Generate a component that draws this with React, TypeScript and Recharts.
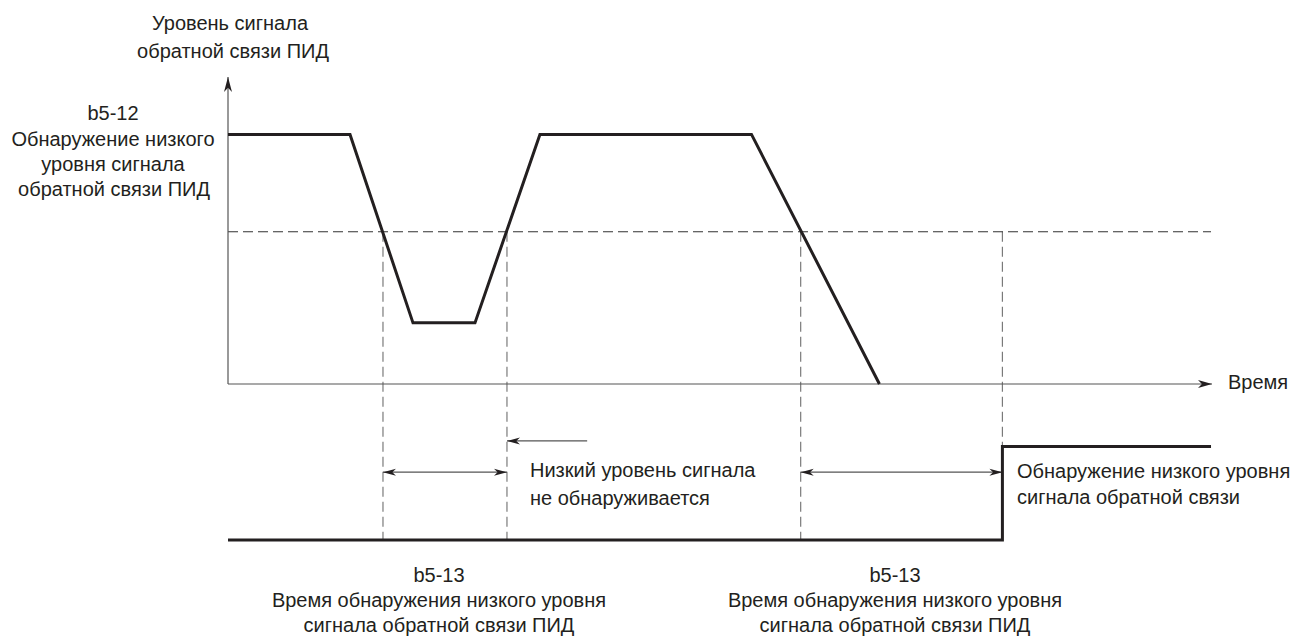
import React from 'react';
import { ComposedChart, Line, XAxis, YAxis, ReferenceLine } from 'recharts';

// time runs 0..1000 along the axis, level is in schematic units (0 = time axis)
const feedbackTime = [0, 124, 188, 251, 317, 532, 662];
const feedbackLevel = [100, 100, 24.5, 24.5, 100, 100, 0];

// detection output trace, drawn under the time axis
const outputTime = [0, 787, 787, 999];
const outputLevel = [-62.5, -62.5, -25, -25];

const threshold = 61; // b5-12
const crossTimes = [157.5, 283.5, 582, 787];
const timeMax = 1000;
const levelTop = 123;
const levelBottom = -70.5;

const detectSpans = [
  [157.5, 283.5],
  [582, 787],
];
const spanLevel = -35.3;
const restartArrow = { from: 365, to: 283.5, level: -22.8 };

const feedbackData = feedbackTime.map((t, i) => ({ t, v: feedbackLevel[i] }));
const outputData = outputTime.map((t, i) => ({ t, v: outputLevel[i] }));

const INK = '#231f20';
const FONT = '"Liberation Sans", Arial, sans-serif';

const labels = [
  { x: 230, y: 30, text: 'Уровень сигнала', anchor: 'middle' },
  { x: 233, y: 58, text: 'обратной связи ПИД', anchor: 'middle' },
  { x: 113, y: 120, text: 'b5-12', anchor: 'middle' },
  { x: 113, y: 146, text: 'Обнаружение низкого', anchor: 'middle' },
  { x: 113, y: 171, text: 'уровня сигнала', anchor: 'middle' },
  { x: 114, y: 196, text: 'обратной связи ПИД', anchor: 'middle' },
  { x: 1228, y: 389, text: 'Время', anchor: 'start' },
  { x: 530, y: 477, text: 'Низкий уровень сигнала', anchor: 'start' },
  { x: 530, y: 505, text: 'не обнаруживается', anchor: 'start' },
  { x: 1017, y: 478, text: 'Обнаружение низкого уровня', anchor: 'start' },
  { x: 1017, y: 504, text: 'сигнала обратной связи', anchor: 'start' },
  { x: 439, y: 582, text: 'b5-13', anchor: 'middle' },
  { x: 439, y: 607, text: 'Время обнаружения низкого уровня', anchor: 'middle' },
  { x: 439, y: 632, text: 'сигнала обратной связи ПИД', anchor: 'middle' },
  { x: 895, y: 582, text: 'b5-13', anchor: 'middle' },
  { x: 895, y: 607, text: 'Время обнаружения низкого уровня', anchor: 'middle' },
  { x: 895, y: 632, text: 'сигнала обратной связи ПИД', anchor: 'middle' },
];

// stealth style arrow head with its tip at (x2, y2)
const head = (x1: number, y1: number, x2: number, y2: number, len = 13, half = 4) => {
  const d = Math.hypot(x2 - x1, y2 - y1) || 1;
  const ux = (x2 - x1) / d;
  const uy = (y2 - y1) / d;
  const nx = -uy;
  const ny = ux;
  const bx = x2 - ux * len;
  const by = y2 - uy * len;
  const mx = x2 - ux * len * 0.72;
  const my = y2 - uy * len * 0.72;
  const pts = [
    [x2, y2],
    [bx + nx * half, by + ny * half],
    [mx, my],
    [bx - nx * half, by - ny * half],
  ];
  return <polygon points={pts.map((p) => p.join(',')).join(' ')} fill={INK} />;
};

const arrowShape = (ends: 'end' | 'both', stroke: string, width: number, len = 13, half = 4) =>
  (p: any) => {
    const { x1, y1, x2, y2 } = p;
    return (
      <g>
        <line x1={x1} y1={y1} x2={x2} y2={y2} stroke={stroke} strokeWidth={width} />
        {head(x1, y1, x2, y2, len, half)}
        {ends === 'both' && head(x2, y2, x1, y1, len, half)}
      </g>
    );
  };

export default function App() {
  return (
    <div style={{ position: 'absolute', left: 0, top: 0, width: 1298, height: 637, background: '#fff' }}>
      <ComposedChart
        width={1298}
        height={637}
        margin={{ top: 77, right: 86, bottom: 77, left: 228 }}
      >
        <XAxis type="number" dataKey="t" domain={[0, timeMax]} allowDataOverflow hide />
        <YAxis type="number" domain={[levelBottom, levelTop]} allowDataOverflow hide />

        {/* vertical guides from the threshold down to the output trace */}
        {crossTimes.map((t, i) => (
          <ReferenceLine
            key={'g' + i}
            segment={[{ x: t, y: threshold }, { x: t, y: i === 3 ? outputLevel[2] : outputLevel[0] }]}
            stroke="#7a7a7a"
            strokeWidth={1.2}
            strokeDasharray="10 5"
          />
        ))}

        <ReferenceLine
          segment={[{ x: 0, y: threshold }, { x: 999, y: threshold }]}
          stroke="#333"
          strokeWidth={1.2}
          strokeDasharray="10 5"
        />

        {/* axes */}
        <ReferenceLine
          segment={[{ x: 0, y: 0 }, { x: timeMax, y: 0 }]}
          shape={arrowShape('end', '#555', 1.2, 14, 4)}
        />
        <ReferenceLine
          segment={[{ x: 0, y: 0 }, { x: 0, y: levelTop }]}
          shape={arrowShape('end', '#555', 1.2, 15, 4)}
        />

        {detectSpans.map(([a, b], i) => (
          <ReferenceLine
            key={'s' + i}
            segment={[{ x: a, y: spanLevel }, { x: b, y: spanLevel }]}
            shape={arrowShape('both', '#555', 1.2, 13, 3.5)}
          />
        ))}
        <ReferenceLine
          segment={[
            { x: restartArrow.from, y: restartArrow.level },
            { x: restartArrow.to, y: restartArrow.level },
          ]}
          shape={arrowShape('end', '#555', 1.2, 13, 3.5)}
        />

        <Line
          data={feedbackData}
          dataKey="v"
          type="linear"
          stroke={INK}
          strokeWidth={3}
          dot={false}
          activeDot={false}
          isAnimationActive={false}
        />
        <Line
          data={outputData}
          dataKey="v"
          type="linear"
          stroke={INK}
          strokeWidth={3}
          dot={false}
          activeDot={false}
          isAnimationActive={false}
        />

        {labels.map((l, i) => (
          <text
            key={'l' + i}
            x={l.x}
            y={l.y}
            textAnchor={l.anchor}
            fontFamily={FONT}
            fontSize={20}
            fill={INK}
          >
            {l.text}
          </text>
        ))}
      </ComposedChart>
    </div>
  );
}
